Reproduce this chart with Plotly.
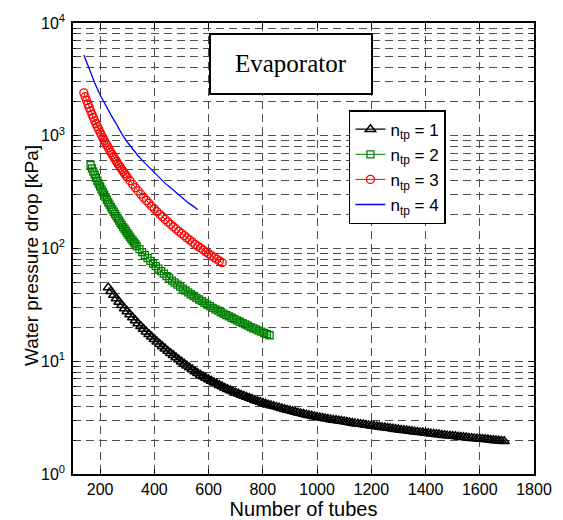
import plotly.graph_objects as go

# ---------------- data ----------------
n1_tubes = list(range(230, 1691, 10))
n1_dp = [45, 41.7, 38.6, 35.96, 33.5, 31.4, 29.4, 27.65, 26.0, 24.45, 23.0, 21.66, 20.4, 19.32, 18.3, 17.38, 16.5,
         15.68, 14.9, 14.18, 13.5, 12.89, 12.3, 11.79, 11.3, 10.81, 10.34, 9.92, 9.51, 9.14, 8.78, 8.45, 8.13, 7.83,
         7.55, 7.32, 7.10, 6.89, 6.68, 6.49, 6.31, 6.13, 5.96, 5.80, 5.65, 5.51, 5.38, 5.26, 5.14, 5.03, 4.92, 4.82,
         4.72, 4.62, 4.52, 4.43, 4.35, 4.27, 4.19, 4.12, 4.06, 4.00, 3.94, 3.88, 3.82, 3.76, 3.70, 3.65, 3.60, 3.55,
         3.50, 3.45, 3.41, 3.36, 3.32, 3.28, 3.24, 3.20, 3.17, 3.14, 3.11, 3.08, 3.05, 3.02, 3.00, 2.97, 2.95, 2.92,
         2.89, 2.86, 2.84, 2.81, 2.79, 2.77, 2.75, 2.72, 2.70, 2.68, 2.66, 2.64, 2.62, 2.60, 2.58, 2.56, 2.54, 2.52,
         2.50, 2.48, 2.46, 2.44, 2.43, 2.41, 2.39, 2.37, 2.36, 2.34, 2.33, 2.31, 2.30, 2.28, 2.27, 2.25, 2.24, 2.22,
         2.21, 2.19, 2.18, 2.17, 2.16, 2.14, 2.13, 2.12, 2.11, 2.09, 2.08, 2.07, 2.06, 2.05, 2.04, 2.03, 2.02, 2.00,
         1.99, 1.98, 1.97, 1.96, 1.95]

n2_tubes = list(range(165, 335, 5)) + list(range(335, 826, 10))
n2_dp = [550, 514, 481, 452, 424, 399, 376, 355, 335, 317, 300, 285, 270.5, 257, 244.7, 233, 222, 212, 202.6,
         193.6, 185, 177, 169, 162, 155, 149, 143, 137, 131.7, 126.7, 121.8, 117.3, 113, 108.9,
         105, 98.6, 92.7, 87.3, 82.3, 77.8, 73.6, 69.7, 66.2, 62.9, 59.8, 56.9, 54.3, 51.9, 49.8, 47.8, 45.9, 44.1,
         42.4, 40.8, 39.3, 37.9, 36.5, 35.3, 34.1, 32.9, 31.8, 30.8, 29.8, 28.9, 28.1, 27.2, 26.5, 25.7, 25.0, 24.3,
         23.6, 23.0, 22.4, 21.8, 21.2, 20.7, 20.1, 19.6, 19.2, 18.7, 18.3, 17.8, 17.4, 17.0]

n3_tubes = list(range(140, 300, 5)) + list(range(300, 651, 10))
n3_dp = [2400, 2220, 2054, 1909, 1775, 1658, 1548, 1451, 1360, 1280, 1204, 1137, 1073, 1015, 961, 912, 865, 822,
         782, 746, 711, 679, 648, 620, 593, 568, 545, 523, 502, 482, 463, 446,
         429, 399, 371, 346, 324, 303, 284, 267, 252, 237, 224, 212, 201, 191, 181, 172, 164, 156, 149, 142, 136,
         130, 124, 119, 114, 109, 105, 101, 97, 93, 90, 86.5, 83.3, 80.4, 77.5, 74.9]

n4_tubes = list(range(140, 561, 20))
n4_dp = [5200, 3850, 2950, 2300, 1850, 1530, 1270, 1040, 880, 760, 665, 590, 525, 470, 420, 378, 345, 312, 285,
         260, 240, 222]

series_names = ["n<sub>tp</sub> = 1", "n<sub>tp</sub> = 2", "n<sub>tp</sub> = 3", "n<sub>tp</sub> = 4"]
x_ticks = [200, 400, 600, 800, 1000, 1200, 1400, 1600, 1800]
y_ticks = [1, 10, 100, 1000, 10000]
y_ticktext = ["10<sup>0</sup>", "10<sup>1</sup>", "10<sup>2</sup>", "10<sup>3</sup>", "10<sup>4</sup>"]
y_minor = [k * 10 ** e for e in range(4) for k in range(2, 10)]

# ---------------- figure ----------------
FONT = "Liberation Sans, Arial, sans-serif"
GRID = "#4d4d4d"
DASH = "8px,5px"

fig = go.Figure()
fig.add_trace(go.Scatter(x=n1_tubes, y=n1_dp, name=series_names[0], mode="lines+markers",
                         line=dict(color="black", width=1.2),
                         marker=dict(symbol="triangle-up-open", size=9, color="black", line=dict(width=1.5))))
fig.add_trace(go.Scatter(x=n2_tubes, y=n2_dp, name=series_names[1], mode="lines+markers",
                         line=dict(color="#008000", width=1),
                         marker=dict(symbol="square-open", size=7, color="#008000", line=dict(width=1.3))))
fig.add_trace(go.Scatter(x=n3_tubes, y=n3_dp, name=series_names[2], mode="lines+markers",
                         line=dict(color="#ff0000", width=1),
                         marker=dict(symbol="circle-open", size=8, color="#ff0000", line=dict(width=1.3))))
fig.add_trace(go.Scatter(x=n4_tubes, y=n4_dp, name=series_names[3], mode="lines",
                         line=dict(color="#0000ff", width=1.3)))

fig.update_layout(
    width=563, height=520,
    margin=dict(l=73, r=29, t=23, b=46),
    paper_bgcolor="white", plot_bgcolor="white",
    font=dict(family=FONT, size=16, color="black"),
    showlegend=True,
    legend=dict(x=0.809, y=0.554, xanchor="right", yanchor="bottom",
                bgcolor="white", bordercolor="black", borderwidth=1.5,
                font=dict(family=FONT, size=17, color="black"),
                itemwidth=30, tracegroupgap=0),
)

fig.update_xaxes(
    type="linear", range=[100, 1800], automargin=False,
    tickmode="array", tickvals=x_ticks,
    ticks="inside", ticklen=5, tickcolor="black", tickwidth=1,
    showline=True, linecolor="black", linewidth=1.5, mirror="ticks",
    showgrid=True, gridcolor=GRID, gridwidth=1, griddash=DASH,
    zeroline=False,
    tickfont=dict(family=FONT, size=16),
    title=dict(text="Number of tubes", font=dict(family=FONT, size=20), standoff=8),
)
fig.update_yaxes(
    type="log", range=[0, 4], automargin=False,
    tickmode="array", tickvals=y_ticks, ticktext=y_ticktext, ticklabelstandoff=3,
    ticks="inside", ticklen=5, tickcolor="black", tickwidth=1,
    showline=True, linecolor="black", linewidth=1.5, mirror="ticks",
    showgrid=True, gridcolor=GRID, gridwidth=1, griddash=DASH,
    minor=dict(tickmode="array", tickvals=y_minor, ticks="inside", ticklen=3, tickcolor="black",
               showgrid=True, gridcolor=GRID, gridwidth=1, griddash=DASH),
    zeroline=False,
    tickfont=dict(family=FONT, size=16),
)

# y-axis title
fig.add_annotation(text="Water pressure drop [kPa]", xref="paper", yref="paper",
                   x=(31 - 73) / 461, y=(474 - 256) / 451, xanchor="center", yanchor="middle",
                   textangle=-90, showarrow=False, font=dict(family=FONT, size=19, color="black"))

# "Evaporator" boxed label
fig.add_shape(type="rect", xref="paper", yref="paper",
              x0=(210 - 73) / 461, x1=(372 - 73) / 461, y0=(474 - 94) / 451, y1=(474 - 34) / 451,
              line=dict(color="black", width=2), fillcolor="white", layer="above")
fig.add_annotation(text="Evaporator", xref="paper", yref="paper",
                   x=(291 - 73) / 461, y=(474 - 63) / 451, xanchor="center", yanchor="middle",
                   showarrow=False, font=dict(family="Liberation Serif, Times New Roman, serif", size=25, color="black"))

fig.write_html("out.html")
